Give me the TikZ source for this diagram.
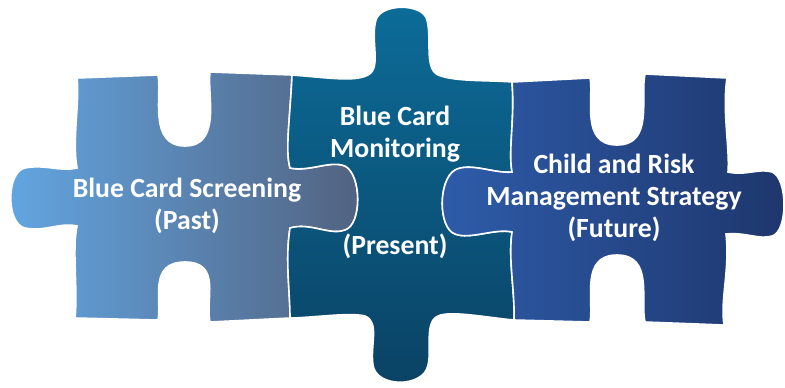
\documentclass[tikz,border=0pt]{standalone}
\usepackage{fontspec}
\setmainfont{Carlito}
\usetikzlibrary{shapes,arrows}

\definecolor{pastA}{RGB}{98,166,226}
\definecolor{pastB}{RGB}{82,98,128}
\definecolor{presA}{RGB}{12,108,152}
\definecolor{presB}{RGB}{10,66,100}
\definecolor{futA}{RGB}{46,92,170}
\definecolor{futB}{RGB}{30,54,108}

\begin{document}
\begin{tikzpicture}[x=0.75pt,y=-0.75pt,
  piece/.style={draw=white,line width=1.2pt},
  lbl/.style={text=white,align=center,font=\fontsize{20.8}{24}\selectfont\bfseries}]
\useasboundingbox (0,0) rectangle (785,387);
% past
\path[piece,left color=pastA,right color=pastB]
  (77,78) -- (158,75)
  .. controls (162,95) and (148,146) .. (185,146) .. controls (222,146) and (207,95) .. (210,72)
  -- (292,75) .. controls (290,120) and (285,150) .. (290,168)
  .. controls (310,172) and (330,160) .. (345,166) .. controls (362,175) and (362,225) .. (345,230)
  .. controls (330,236) and (310,222) .. (290,228)
  .. controls (285,260) and (290,290) .. (290,318)
  -- (210,322) .. controls (205,300) and (222,262) .. (185,262) .. controls (148,262) and (162,300) .. (158,320)
  -- (75,318) .. controls (78,290) and (72,250) .. (77,226)
  .. controls (60,222) and (45,232) .. (25,228) .. controls (6,224) and (6,172) .. (25,168)
  .. controls (45,164) and (60,172) .. (77,168)
  .. controls (72,140) and (80,100) .. (77,78) -- cycle;
% present
\path[piece,top color=presA,bottom color=presB]
  (292,75) .. controls (330,78) and (355,82) .. (368,75)
  .. controls (382,68) and (370,40) .. (376,20) .. controls (381,3) and (423,3) .. (427,20)
  .. controls (432,40) and (424,68) .. (438,75) .. controls (455,82) and (490,80) .. (512,82)
  .. controls (515,120) and (508,150) .. (512,172)
  .. controls (495,174) and (470,162) .. (455,170) .. controls (438,180) and (438,228) .. (455,234)
  .. controls (470,240) and (495,228) .. (512,232)
  .. controls (508,260) and (515,290) .. (514,320)
  .. controls (490,318) and (450,310) .. (438,316)
  .. controls (424,322) and (432,350) .. (428,365) .. controls (424,388) and (376,388) .. (373,365)
  .. controls (370,345) and (380,322) .. (365,316) .. controls (350,312) and (310,318) .. (290,318)
  .. controls (290,290) and (285,260) .. (290,228)
  .. controls (310,222) and (330,236) .. (345,230) .. controls (362,225) and (362,175) .. (345,166)
  .. controls (330,160) and (310,172) .. (290,168)
  .. controls (285,150) and (290,120) .. (292,75) -- cycle;
% future
\path[piece,left color=futA,right color=futB]
  (512,82) -- (590,78)
  .. controls (594,98) and (580,145) .. (617,145) .. controls (654,145) and (640,98) .. (645,74)
  -- (727,78) .. controls (722,110) and (730,150) .. (728,172)
  .. controls (745,176) and (760,168) .. (772,172) .. controls (788,178) and (788,232) .. (772,236)
  .. controls (760,240) and (745,232) .. (726,234)
  .. controls (730,270) and (720,300) .. (724,325)
  -- (645,322) .. controls (640,300) and (654,255) .. (617,255) .. controls (580,255) and (594,300) .. (590,322)
  -- (514,320) .. controls (515,290) and (508,260) .. (512,232)
  .. controls (495,228) and (470,240) .. (455,234) .. controls (438,228) and (438,180) .. (455,170)
  .. controls (470,162) and (495,174) .. (512,172)
  .. controls (508,150) and (515,120) .. (512,82) -- cycle;
\node[lbl] (past) at (187,206) {Blue Card Screening\\(Past)};
\node[lbl] (present) at (395,134) {Blue Card\\Monitoring};
\node[lbl] (presentb) at (395,246) {(Present)};
\node[lbl] (future) at (614,198) {Child and Risk\\Management Strategy\\(Future)};
\end{tikzpicture}
\end{document}
